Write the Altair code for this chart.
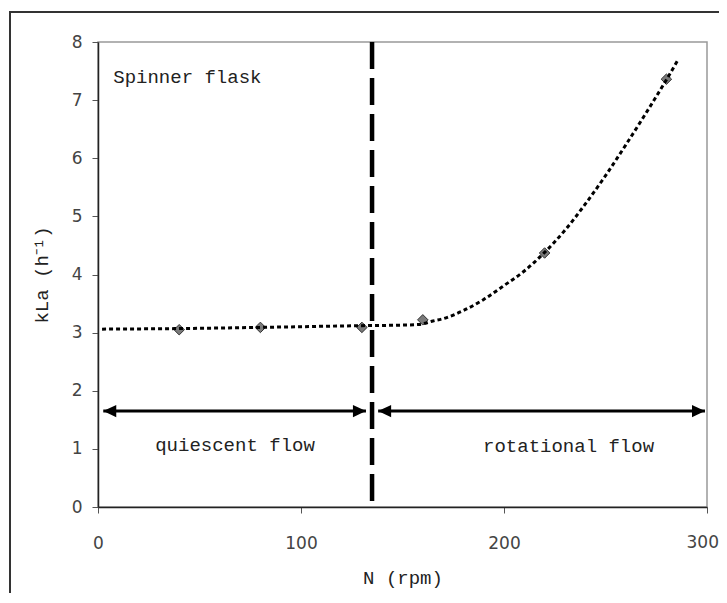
import altair as alt
import pandas as pd

# Measured points (N in rpm, kLa in 1/h)
rpm = [40, 80, 130, 160, 220, 280]
kla = [3.05, 3.09, 3.09, 3.22, 4.37, 7.36]

# Trend line
trend_rpm = [2, 40, 80, 130, 150, 158, 165, 170, 180, 190, 200, 210, 220, 230, 240, 250, 260, 270, 280, 286]
trend_kla = [3.06, 3.07, 3.09, 3.12, 3.13, 3.14, 3.20, 3.24, 3.38, 3.57, 3.81, 4.06, 4.38, 4.76, 5.21, 5.70, 6.23, 6.78, 7.35, 7.71]

# Transition between flow regimes
transition_rpm = [135]

# Arrows
arrow_start = [2.6, 138]
arrow_end = [132, 299]
arrow_level = [1.65, 1.65]

# Annotations
note_text = ["quiescent flow", "rotational flow"]
note_rpm = [67.5, 231.8]
note_kla = [1.07, 1.05]
label_text = ["Spinner flask"]
label_rpm = [7.5]
label_kla = [7.4]

x_ticks = [0, 100, 200, 300]
x_last_tick = [300]
y_ticks = [0, 1, 2, 3, 4, 5, 6, 7, 8]

MONO = "Liberation Mono"
SANS = "DejaVu Sans"

x_axis = alt.Axis(values=x_ticks, title="N (rpm)", grid=False, tickSize=6, tickColor="#555",
                  domainColor="#222", domainWidth=1.5, labelFont=SANS, labelFontSize=17,
                  labelColor="#444", labelPadding=22, labelFlush=False,
                  labelExpr="datum.value == 300 ? '' : datum.label", titleFont=MONO,
                  titleFontSize=19, titleFontWeight="normal", titleColor="#222", titlePadding=17)
y_axis = alt.Axis(values=y_ticks, title="kLa (h⁻¹)", grid=False, tickSize=6, tickColor="#555",
                  domainColor="#222", domainWidth=1.5, labelFont=SANS, labelFontSize=17,
                  labelColor="#444", labelPadding=10, labelFlush=False, titleFont=MONO,
                  titleFontSize=19, titleFontWeight="normal", titleColor="#222", titlePadding=20)

xs = alt.Scale(domain=[0, 300], nice=False)
ys = alt.Scale(domain=[0, 8], nice=False)

def X(field="N"):
    return alt.X(f"{field}:Q", scale=xs, axis=x_axis)

def Y(field="kLa"):
    return alt.Y(f"{field}:Q", scale=ys, axis=y_axis)

pts_df = pd.DataFrame({"N": rpm, "kLa": kla})
trend_df = pd.DataFrame({"N": trend_rpm, "kLa": trend_kla})
vline_df = pd.DataFrame({"N": transition_rpm})
arrow_df = pd.DataFrame({"N": arrow_start, "N2": arrow_end, "kLa": arrow_level})
head_l_df = pd.DataFrame({"N": arrow_start, "kLa": arrow_level})
head_r_df = pd.DataFrame({"N": arrow_end, "kLa": arrow_level})
note_df = pd.DataFrame({"N": note_rpm, "kLa": note_kla, "t": note_text})
label_df = pd.DataFrame({"N": label_rpm, "kLa": label_kla, "t": label_text})
last_tick_df = pd.DataFrame({"N": x_last_tick, "t": [str(v) for v in x_last_tick]})

frame = alt.Chart(pd.DataFrame({"d": [0]})).mark_rect(
    fill="transparent", stroke="#333", strokeWidth=2
).encode(x=alt.value(-88), x2=alt.value(1200), y=alt.value(-30), y2=alt.value(1200))

vline = alt.Chart(vline_df).mark_rule(color="black", strokeWidth=4.5, strokeDash=[27, 9]).encode(x=X())

arrows = alt.Chart(arrow_df).mark_rule(color="black", strokeWidth=3).encode(
    x=X(), x2="N2:Q", y=Y())
head_l = alt.Chart(head_l_df).mark_point(
    shape="M 0 0 L 2 -0.95 L 2 0.95 Z", filled=True, color="black", size=169, opacity=1
).encode(x=X(), y=Y())
head_r = alt.Chart(head_r_df).mark_point(
    shape="M 0 0 L -2 -0.95 L -2 0.95 Z", filled=True, color="black", size=169, opacity=1
).encode(x=X(), y=Y())

points = alt.Chart(pts_df).mark_point(
    shape="diamond", filled=True, fill="#7a7a7a", stroke="#333", strokeWidth=1, size=110, opacity=1
).encode(x=X(), y=Y())

trend = alt.Chart(trend_df).mark_line(
    color="black", strokeWidth=3, strokeDash=[4, 3], interpolate="monotone"
).encode(x=X(), y=Y())

notes = alt.Chart(note_df).mark_text(
    font=MONO, fontSize=19, color="#222", align="center", baseline="middle"
).encode(x=X(), y=Y(), text="t:N")

label = alt.Chart(label_df).mark_text(
    font=MONO, fontSize=19, color="#222", align="left", baseline="middle"
).encode(x=X(), y=Y(), text="t:N")

# last x tick label, kept inside the page edge
last_tick = alt.Chart(last_tick_df).mark_text(
    font=SANS, fontSize=17, color="#444", align="right", baseline="top", dx=12, dy=28
).encode(x=X(), y=alt.value(465), text="t:N")

chart = alt.layer(
    frame, vline, arrows, head_l, head_r, points, trend, notes, label, last_tick
).properties(
    width=609, height=465,
    autosize=alt.AutoSizeParams(type="none"),
    padding={"left": 90, "top": 34, "right": 12, "bottom": 86},
    background="white",
).configure_view(stroke="#999", strokeWidth=1.5)

chart.save("out.html", embed_options={"renderer": "svg", "actions": False})
